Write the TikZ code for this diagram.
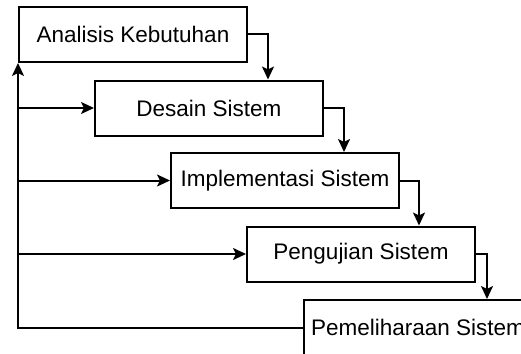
\documentclass[tikz,border=0pt]{standalone}
\usepackage{fontspec}
\setmainfont{Liberation Sans}
\usetikzlibrary{arrows.meta}
\begin{document}
\begin{tikzpicture}[x=1pt,y=-1pt]
\path[use as bounding box] (0,0) rectangle (521,353);
\clip (0,0) rectangle (521,353);

\tikzstyle{box}=[draw,rectangle,line width=2pt,minimum width=228pt,minimum height=55pt,inner sep=0pt,font=\fontsize{22.5}{26}\selectfont]
\tikzstyle{flow}=[line width=2pt,-{Stealth[length=13pt,width=12pt,inset=3pt]}]

\node[box] (analisis) at (133,34.5) {Analisis Kebutuhan};
\node[box] (desain) at (209,108) {Desain Sistem};
\node[box] (implementasi) at (285,180.5) {Implementasi Sistem};
\node[box] (pengujian) at (361,254) {Pengujian Sistem};
\node[box] (pemeliharaan) at (418,327.5) {Pemeliharaan Sistem};

\draw[flow] (analisis.east) -| ([xshift=-56pt]desain.north east);
\draw[flow] (desain.east) -| ([xshift=-56pt]implementasi.north east);
\draw[flow] (implementasi.east) -| ([xshift=-57pt]pengujian.north east);
\draw[flow] (pengujian.east) -| ([xshift=184pt]pemeliharaan.north west);

% back to the start
\draw[flow] (pemeliharaan.west) -| (analisis.south west);
\draw[flow] (analisis.west |- desain.west) -- (desain.west);
\draw[flow] (analisis.west |- implementasi.west) -- (implementasi.west);
\draw[flow] (analisis.west |- pengujian.west) -- (pengujian.west);
\end{tikzpicture}
\end{document}
